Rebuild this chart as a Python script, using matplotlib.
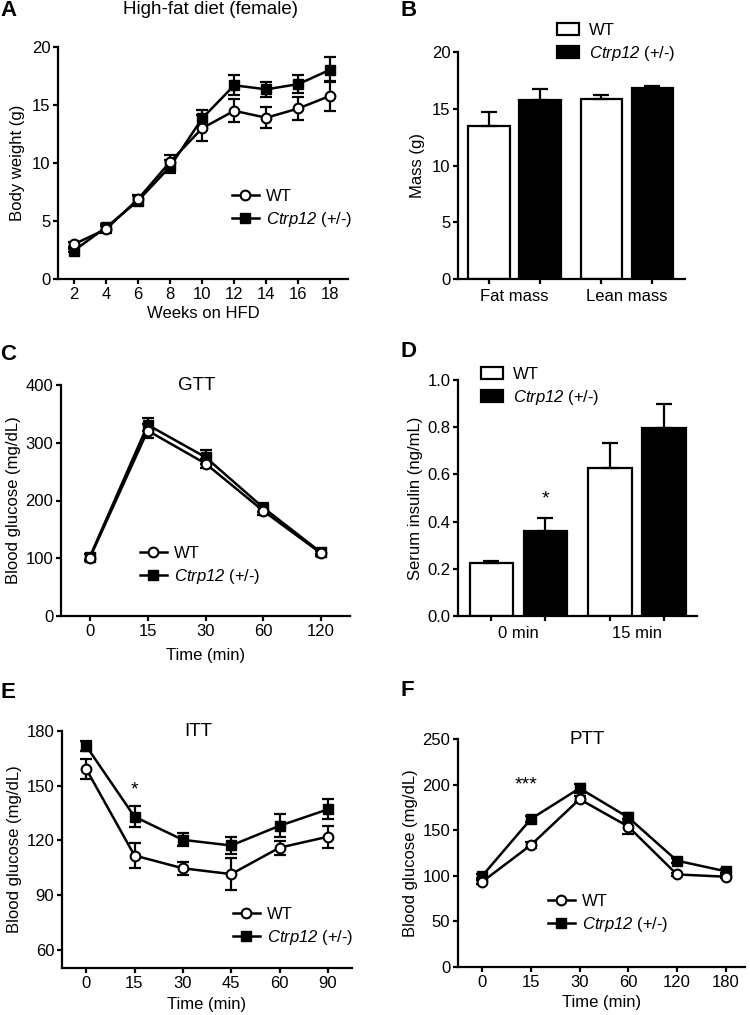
import matplotlib
matplotlib.use("Agg")
import matplotlib.pyplot as plt
import numpy as np
from matplotlib.patches import Patch
from matplotlib.lines import Line2D

plt.rcParams['font.family'] = ['Liberation Sans', 'DejaVu Sans']
plt.rcParams['mathtext.fontset'] = 'custom'
plt.rcParams['mathtext.sf'] = 'Liberation Sans:italic'
plt.rcParams['mathtext.rm'] = 'Liberation Sans'
plt.rcParams['axes.linewidth'] = 1.6
plt.rcParams['xtick.major.width'] = 1.6
plt.rcParams['ytick.major.width'] = 1.6
plt.rcParams['xtick.major.size'] = 3.5
plt.rcParams['ytick.major.size'] = 3.5
plt.rcParams['xtick.major.pad'] = 2.5
plt.rcParams['ytick.major.pad'] = 2
plt.rcParams['xtick.labelsize'] = 12
plt.rcParams['ytick.labelsize'] = 12
plt.rcParams['axes.labelsize'] = 12

KO_LABEL = r'$\mathsf{Ctrp12}$ (+/-)'

# A: body weight
weeks = [2, 4, 6, 8, 10, 12, 14, 16, 18]
wt_bw = [3.0, 4.3, 6.9, 10.1, 13.0, 14.5, 13.9, 14.7, 15.8]
wt_bw_err = [0.2, 0.3, 0.35, 0.6, 1.1, 1.0, 0.9, 1.0, 1.3]
ko_bw = [2.45, 4.45, 6.75, 9.7, 13.85, 16.7, 16.35, 16.8, 18.05]
ko_bw_err = [0.15, 0.3, 0.4, 0.55, 0.75, 0.85, 0.65, 0.8, 1.1]

# B: body composition
mass_groups = ['Fat mass', 'Lean mass']
wt_mass = [13.5, 15.9]
wt_mass_err = [1.2, 0.3]
ko_mass = [15.8, 16.8]
ko_mass_err = [0.9, 0.2]

# C: GTT
gtt_time = ['0', '15', '30', '60', '120']
wt_gtt = [101, 321, 264, 182, 108.5]
wt_gtt_err = [6, 12, 8, 7, 4]
ko_gtt = [102.7, 331, 275, 187.6, 110]
ko_gtt_err = [5, 11, 12, 8, 3]

# D: serum insulin
ins_groups = ['0 min', '15 min']
wt_ins = [0.223, 0.628]
wt_ins_err = [0.011, 0.104]
ko_ins = [0.361, 0.795]
ko_ins_err = [0.053, 0.103]

# E: ITT
itt_time = ['0', '15', '30', '45', '60', '90']
wt_itt = [159.2, 111.7, 104.7, 101.5, 116, 122]
wt_itt_err = [5.5, 6.6, 3.7, 8.7, 3.8, 6]
ko_itt = [171.8, 133, 120.3, 117.2, 128, 137]
ko_itt_err = [2.8, 5.7, 3.5, 4.5, 6.4, 5.5]

# F: PTT
ptt_time = ['0', '15', '30', '60', '120', '180']
wt_ptt = [93.5, 133.8, 184, 154, 101.5, 99]
wt_ptt_err = [2, 3, 3, 8, 2, 1.5]
ko_ptt = [100, 162.4, 196, 164, 116.6, 105]
ko_ptt_err = [2, 3, 5, 5, 3, 2]

W, H = 750, 1015
fig = plt.figure(figsize=(W / 100, H / 100), dpi=100)


def add_ax(l, t, r, b):
    ax = fig.add_axes([l / W, 1 - b / H, (r - l) / W, (b - t) / H])
    ax.spines['top'].set_visible(False)
    ax.spines['right'].set_visible(False)
    return ax


def line_panel(ax, x, wt, wt_err, ko, ko_err):
    ax.errorbar(x, ko, yerr=ko_err, fmt='none', ecolor='black', elinewidth=1.6,
                capsize=4, capthick=1.6, zorder=2)
    ax.errorbar(x, wt, yerr=wt_err, fmt='none', ecolor='black', elinewidth=1.6,
                capsize=4, capthick=1.6, zorder=2)
    ax.plot(x, ko, color='black', lw=1.8, marker='s', ms=6.5, mfc='black',
            mec='black', zorder=3)
    ax.plot(x, wt, color='black', lw=1.8, marker='o', ms=7, mfc='white',
            mec='black', mew=1.5, zorder=4)


def line_legend(x, y):
    handles = [Line2D([], [], color='black', lw=1.8, marker='o', ms=7, mfc='white', mec='black', mew=1.5),
               Line2D([], [], color='black', lw=1.8, marker='s', ms=6.5, mfc='black')]
    fig.legend(handles, ['WT', KO_LABEL], loc='center left', bbox_to_anchor=(x / W, 1 - y / H),
               frameon=False, fontsize=12, handlelength=1.6, handletextpad=0.45,
               labelspacing=0.38, borderpad=0, borderaxespad=0)


def bar_legend(x, y):
    handles = [Patch(facecolor='white', edgecolor='black', lw=1.6),
               Patch(facecolor='black', edgecolor='black', lw=1.6)]
    fig.legend(handles, ['WT', KO_LABEL], loc='center left', bbox_to_anchor=(x / W, 1 - y / H),
               frameon=False, fontsize=12, handlelength=1.3, handleheight=0.7,
               handletextpad=0.6, labelspacing=0.35, borderpad=0, borderaxespad=0)


def bar_panel(ax, wt, wt_err, ko, ko_err, groups):
    pos = np.array([0.0, 2.2])
    width = 0.81
    ax.bar(pos, wt, width, color='white', edgecolor='black', lw=1.6, zorder=2,
           yerr=[np.zeros(len(wt)), wt_err], error_kw=dict(elinewidth=1.6, capsize=6, capthick=1.6))
    ax.bar(pos + 1, ko, width, color='black', edgecolor='black', lw=1.6, zorder=2,
           yerr=[np.zeros(len(ko)), ko_err], error_kw=dict(elinewidth=1.6, capsize=6, capthick=1.6, ecolor='black'))
    ax.set_xticks(np.concatenate([pos, pos + 1]))
    ax.set_xticklabels([''] * 4)
    ax.set_xticks(pos + 0.5, minor=True)
    ax.set_xticklabels(groups, minor=True, fontsize=12)
    ax.tick_params(axis='x', which='minor', length=0, pad=7)


# panel A
axA = add_ax(58, 47, 348, 279)
line_panel(axA, weeks, wt_bw, wt_bw_err, ko_bw, ko_bw_err)
axA.set_xlim(1, 19.1)
axA.set_ylim(0, 20)
axA.set_xticks(weeks)
axA.set_yticks([0, 5, 10, 15, 20])
axA.set_xlabel('Weeks on HFD', labelpad=3)
axA.set_ylabel('Body weight (g)', labelpad=5)
fig.text(210 / W, 1 - 10 / H, 'High-fat diet (female)', ha='center', va='center', fontsize=13.5)
line_legend(232, 209)

# panel B
axB = add_ax(458, 52, 685, 279)
bar_panel(axB, wt_mass, wt_mass_err, ko_mass, ko_mass_err, mass_groups)
axB.set_xlim(-0.61, 3.84)
axB.set_ylim(0, 20)
axB.set_yticks([0, 5, 10, 15, 20])
axB.set_ylabel('Mass (g)', labelpad=5)
bar_legend(557, 43)

# panel C
axC = add_ax(61, 385, 350, 616)
line_panel(axC, np.arange(len(gtt_time)), wt_gtt, wt_gtt_err, ko_gtt, ko_gtt_err)
axC.set_xlim(-0.5, 4.5)
axC.set_ylim(0, 400)
axC.set_xticks(np.arange(len(gtt_time)))
axC.set_xticklabels(gtt_time)
axC.set_yticks([0, 100, 200, 300, 400])
axC.set_xlabel('Time (min)', labelpad=6)
axC.set_ylabel('Blood glucose (mg/dL)', labelpad=3)
axC.text(0.47, 1.0, 'GTT', transform=axC.transAxes, ha='center', va='center', fontsize=13.5)
line_legend(140, 566)

# panel D
axD = add_ax(458, 380, 697, 616)
bar_panel(axD, wt_ins, wt_ins_err, ko_ins, ko_ins_err, ins_groups)
axD.set_xlim(-0.62, 3.81)
axD.set_ylim(0, 1.0)
axD.set_yticks([0, 0.2, 0.4, 0.6, 0.8, 1.0])
axD.set_yticklabels(['0.0', '0.2', '0.4', '0.6', '0.8', '1.0'])
axD.set_ylabel('Serum insulin (ng/mL)', labelpad=3)
axD.text(1, 0.46, '*', ha='center', va='bottom', fontsize=14)
bar_legend(481, 387)

# panel E
axE = add_ax(62, 731, 352, 968)
line_panel(axE, np.arange(len(itt_time)), wt_itt, wt_itt_err, ko_itt, ko_itt_err)
axE.set_xlim(-0.5, 5.5)
axE.set_ylim(50, 180)
axE.set_xticks(np.arange(len(itt_time)))
axE.set_xticklabels(itt_time)
axE.set_yticks([60, 90, 120, 150, 180])
axE.set_xlabel('Time (min)', labelpad=4)
axE.set_ylabel('Blood glucose (mg/dL)', labelpad=3)
axE.text(0.47, 1.0, 'ITT', transform=axE.transAxes, ha='center', va='center', fontsize=13.5)
axE.text(1, 143, '*', ha='center', va='bottom', fontsize=14)
line_legend(233, 927)

# panel F
axF = add_ax(458, 739, 745, 967)
line_panel(axF, np.arange(len(ptt_time)), wt_ptt, wt_ptt_err, ko_ptt, ko_ptt_err)
axF.set_xlim(-0.5, 5.4)
axF.set_ylim(0, 250)
axF.set_xticks(np.arange(len(ptt_time)))
axF.set_xticklabels(ptt_time)
axF.set_yticks([0, 50, 100, 150, 200, 250])
axF.set_xlabel('Time (min)', labelpad=3)
axF.set_ylabel('Blood glucose (mg/dL)', labelpad=3)
axF.text(0.45, 1.0, 'PTT', transform=axF.transAxes, ha='center', va='center', fontsize=13.5)
axF.text(0.9, 190, '***', ha='center', va='bottom', fontsize=14)
line_legend(548, 914)

# panel letters
for letter, x, y in [('A', 0, 10), ('B', 401, 11), ('C', 0, 354), ('D', 401, 352),
                     ('E', 0, 692), ('F', 401, 690)]:
    fig.text(x / W, 1 - y / H, letter, ha='left', va='center', fontsize=16, fontweight='bold')

fig.savefig('out.png', dpi=100)
